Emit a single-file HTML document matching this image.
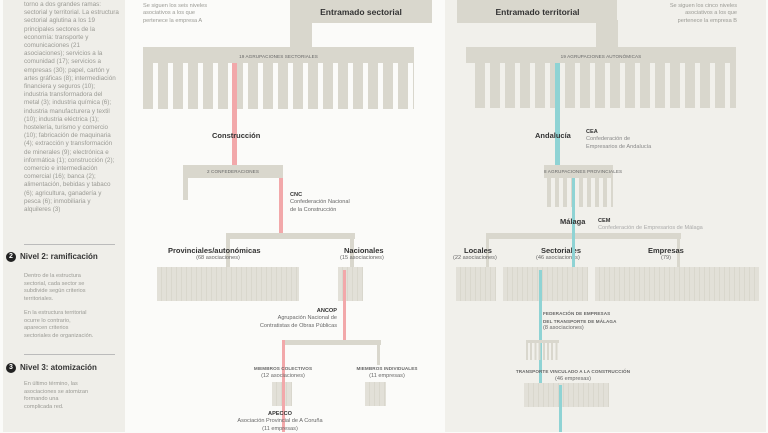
<!DOCTYPE html>
<html><head><meta charset="utf-8"><style>
*{margin:0;padding:0;box-sizing:border-box}
body{width:768px;height:432px;overflow:hidden;background:#fbfbf9;font-family:"Liberation Sans",sans-serif;position:relative}
div{position:absolute}
.g{background:#d9d7cd}
.t{font-size:5.6px;line-height:7.4px;color:#9a9a94;white-space:nowrap}
.b{font-weight:bold;color:#333}
.cap{font-size:4.6px;color:#666;letter-spacing:.1px;white-space:nowrap;text-align:center}
.teeth{background:repeating-linear-gradient(90deg,#d9d7cd 0 10px,transparent 10px 15px)}
.box{background:repeating-linear-gradient(90deg,#e2e0d8 0 4px,#d9d7cd 4px 5px)}
.pk{background:#f2a8aa}.tl{background:#8fd3d4}
.h{font-size:7.5px;font-weight:bold;color:#333;white-space:nowrap}
.c{text-align:center}
</style></head><body>
<!-- sidebar -->
<div style="left:3px;top:0;width:122px;height:432px;background:#efeee9"></div>
<div class="t" style="left:24px;top:1px;white-space:normal;width:95px;font-size:6.3px;line-height:8.2px">torno a dos grandes ramas: sectorial y territorial. La estructura sectorial aglutina a los 19 principales sectores de la economía: transporte y comunicaciones (21 asociaciones); servicios a la comunidad (17); servicios a empresas (30); papel, cartón y artes gráficas (8); intermediación financiera y seguros (10); industria transformadora del metal (3); industria química (6); industria manufacturera y textil (10); industria eléctrica (1); hostelería, turismo y comercio (10); fabricación de maquinaria (4); extracción y transformación de minerales (9); electrónica e informática (1); construcción (2); comercio e intermediación comercial (16); banca (2); alimentación, bebidas y tabaco (6); agricultura, ganadería y pesca (6); inmobiliaria y alquileres (3)</div>
<div style="left:24px;top:244px;width:91px;height:1px;background:#bbb"></div>
<div style="left:6px;top:252px;width:10px;height:10px;border-radius:50%;background:#222;color:#fff;font-size:7px;font-weight:bold;text-align:center;line-height:10px">2</div>
<div class="h" style="left:20px;top:252px;font-size:8px">Nivel 2: ramificación</div>
<div class="t" style="left:24px;top:273px;line-height:7.5px">Dentro de la estructura<br>sectorial, cada sector se<br>subdivide según criterios<br>territoriales.</div>
<div class="t" style="left:24px;top:310px;line-height:7.5px">En la estructura territorial<br>ocurre lo contrario,<br>aparecen criterios<br>sectoriales de organización.</div>
<div style="left:24px;top:354px;width:91px;height:1px;background:#bbb"></div>
<div style="left:6px;top:363px;width:10px;height:10px;border-radius:50%;background:#222;color:#fff;font-size:7px;font-weight:bold;text-align:center;line-height:10px">3</div>
<div class="h" style="left:20px;top:363px;font-size:8px">Nivel 3: atomización</div>
<div class="t" style="left:24px;top:381px;line-height:7.5px">En último término, las<br>asociaciones se atomizan<br>formando una<br>complicada red.</div>

<!-- right panel -->
<div style="left:445px;top:0;width:321px;height:432px;background:#f1f0eb"></div>

<!-- LEFT TREE -->
<div class="t" style="left:143px;top:3px">Se siguen los seis niveles<br>asociativos a los que<br>pertenece la empresa A</div>
<div class="g" style="left:290px;top:0;width:142px;height:23px"></div>
<div class="h" style="left:290px;top:7px;width:142px;text-align:center;font-size:8.5px">Entramado sectorial</div>
<div class="g" style="left:290px;top:20px;width:22px;height:30px"></div>
<div class="g" style="left:143px;top:47px;width:271px;height:16px"></div>
<div class="cap" style="left:143px;top:54px;width:271px">19 AGRUPACIONES SECTORIALES</div>
<div class="teeth" style="left:143px;top:63px;width:271px;height:46px"></div>
<div class="pk" style="left:232px;top:63px;width:5px;height:103px"></div>
<div class="h" style="left:212px;top:131px">Construcción</div>
<div class="g" style="left:183px;top:165px;width:100px;height:13px"></div>
<div class="cap" style="left:183px;top:169px;width:100px">2 CONFEDERACIONES</div>
<div class="g" style="left:183px;top:178px;width:5px;height:22px"></div>
<div class="pk" style="left:279px;top:178px;width:4px;height:56px"></div>
<div class="t" style="left:290px;top:192px;color:#666"><b style="color:#333">CNC</b><br>Confederación Nacional<br>de la Construcción</div>
<div class="g" style="left:227px;top:233px;width:128px;height:6px"></div>
<div class="g" style="left:226px;top:233px;width:4px;height:34px"></div>
<div class="g" style="left:350px;top:233px;width:4px;height:34px"></div>
<div class="h" style="left:168px;top:246px">Provinciales/autonómicas</div>
<div class="t c" style="left:168px;top:255px;width:100px;color:#666">(68 asociaciones)</div>
<div class="box" style="left:157px;top:267px;width:142px;height:34px"></div>
<div class="h" style="left:344px;top:246px">Nacionales</div>
<div class="t" style="left:340px;top:255px;color:#666">(15 asociaciones)</div>
<div class="box" style="left:338px;top:267px;width:25px;height:34px"></div>
<div class="pk" style="left:343px;top:270px;width:3px;height:72px"></div>
<div class="t" style="left:237px;top:308px;width:100px;text-align:right;color:#666"><b style="color:#333">ANCOP</b><br>Agrupación Nacional de<br>Contratistas de Obras Públicas</div>
<div class="g" style="left:282px;top:340px;width:99px;height:5px"></div>
<div class="g" style="left:377px;top:340px;width:3px;height:25px"></div>
<div class="pk" style="left:282px;top:340px;width:3px;height:92px"></div>
<div class="cap b" style="left:233px;top:366px;width:100px">MIEMBROS COLECTIVOS</div>
<div class="t c" style="left:233px;top:373px;width:100px;color:#666">(12 asociaciones)</div>
<div class="box" style="left:272px;top:382px;width:20px;height:24px"></div>
<div class="pk" style="left:282px;top:382px;width:3px;height:50px"></div>
<div class="cap b" style="left:337px;top:366px;width:100px">MIEMBROS INDIVIDUALES</div>
<div class="t c" style="left:337px;top:373px;width:100px;color:#666">(11 empresas)</div>
<div class="box" style="left:365px;top:382px;width:21px;height:24px"></div>
<div class="t c" style="left:215px;top:411px;width:130px;color:#666"><b style="color:#333">APECCO</b><br>Asociación Provincial de A Coruña<br>(11 empresas)</div>

<!-- RIGHT TREE -->
<div class="t" style="left:600px;top:3px;width:137px;text-align:right">Se siguen los cinco niveles<br>asociativos a los que<br>pertenece la empresa B</div>
<div class="g" style="left:457px;top:0;width:160px;height:23px"></div>
<div class="h" style="left:480px;top:7px;width:115px;text-align:center;font-size:8.5px">Entramado territorial</div>
<div class="g" style="left:596px;top:20px;width:22px;height:30px"></div>
<div class="g" style="left:466px;top:47px;width:270px;height:16px"></div>
<div class="cap" style="left:466px;top:54px;width:270px">19 AGRUPACIONES AUTONÓMICAS</div>
<div class="teeth" style="left:475px;top:63px;width:261px;height:45px"></div>
<div class="tl" style="left:555px;top:63px;width:5px;height:103px"></div>
<div class="h" style="left:535px;top:131px">Andalucía</div>
<div class="t" style="left:586px;top:129px;color:#888"><b style="color:#333">CEA</b><br>Confederación de<br>Empresarios de Andalucía</div>
<div class="g" style="left:544px;top:165px;width:69px;height:13px"></div>
<div class="cap" style="left:544px;top:169px;width:69px">8 AGRUPACIONES PROVINCIALES</div>
<div style="left:547px;top:178px;width:66px;height:29px;background:repeating-linear-gradient(90deg,#d9d7cd 0 4px,transparent 4px 8px)"></div>
<div class="tl" style="left:572px;top:178px;width:3px;height:90px"></div>
<div class="h" style="left:560px;top:217px">Málaga</div>
<div class="t" style="left:598px;top:218px;color:#aaa"><b style="color:#333">CEM</b><br>Confederación de Empresarios de Málaga</div>
<div class="g" style="left:486px;top:233px;width:195px;height:6px"></div>
<div class="g" style="left:486px;top:233px;width:3px;height:34px"></div>
<div class="g" style="left:677px;top:233px;width:3px;height:34px"></div>
<div class="h" style="left:464px;top:246px">Locales</div>
<div class="t" style="left:453px;top:255px;color:#666">(22 asociaciones)</div>
<div class="h" style="left:541px;top:246px">Sectoriales</div>
<div class="t" style="left:536px;top:255px;color:#666">(46 asociaciones)</div>
<div class="h" style="left:648px;top:246px">Empresas</div>
<div class="t" style="left:661px;top:255px;color:#666">(79)</div>
<div class="box" style="left:456px;top:267px;width:40px;height:34px"></div>
<div class="box" style="left:503px;top:267px;width:85px;height:34px"></div>
<div class="box" style="left:595px;top:267px;width:164px;height:34px"></div>
<div class="tl" style="left:572px;top:233px;width:3px;height:34px"></div>
<div class="tl" style="left:539px;top:270px;width:3px;height:114px"></div>
<div class="cap b" style="left:543px;top:310px;text-align:left;line-height:7.5px">FEDERACIÓN DE EMPRESAS<br>DEL TRANSPORTE DE MÁLAGA</div>
<div class="t" style="left:543px;top:325px;color:#666">(8 asociaciones)</div>
<div class="g" style="left:526px;top:340px;width:33px;height:3px"></div>
<div style="left:526px;top:343px;width:33px;height:17px;background:repeating-linear-gradient(90deg,#d9d7cd 0 2px,transparent 2px 4.2px)"></div>
<div class="cap b" style="left:493px;top:369px;width:160px">TRANSPORTE VINCULADO A LA CONSTRUCCIÓN</div>
<div class="t c" style="left:523px;top:376px;width:100px;color:#666">(46 empresas)</div>
<div class="box" style="left:524px;top:383px;width:85px;height:24px"></div>
<div class="tl" style="left:559px;top:385px;width:3px;height:47px"></div>
</body></html>
